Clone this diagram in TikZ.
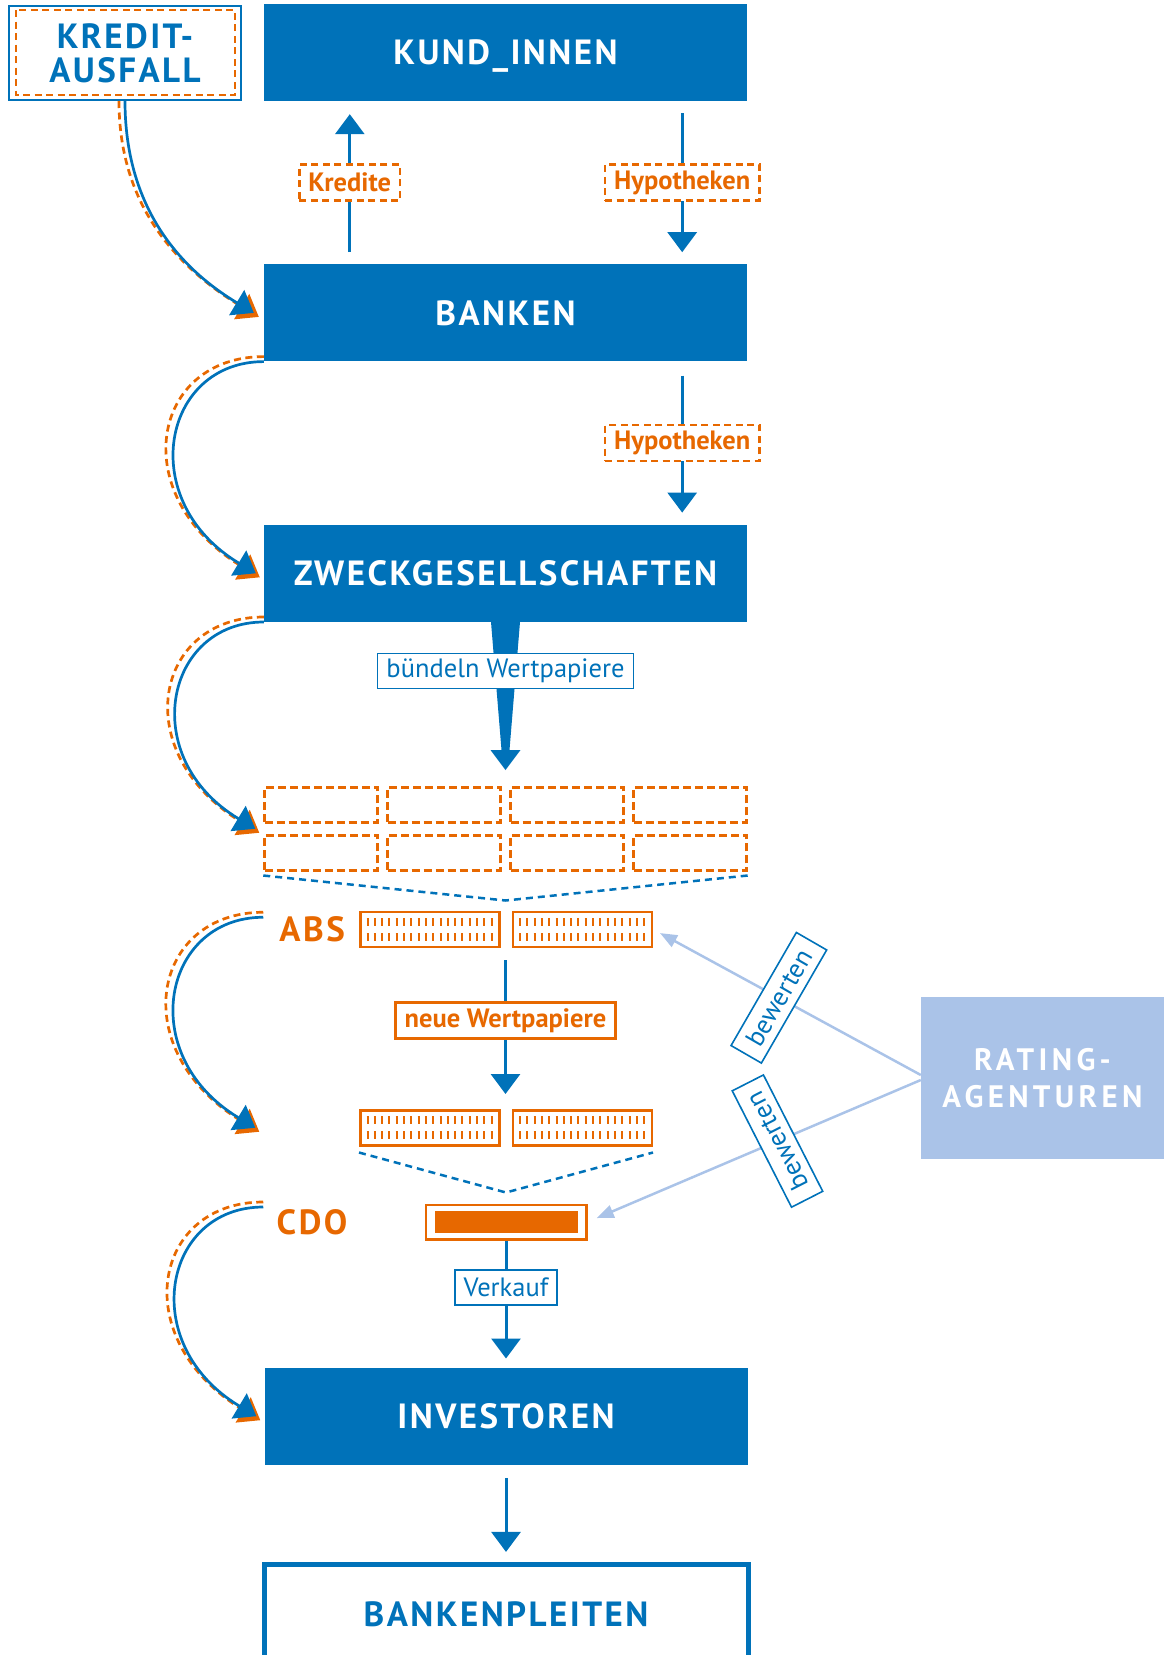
\documentclass[tikz,border=0pt]{standalone}
\usepackage{fontspec}
\setmainfont{PT Sans}
\newfontfamily\capsfont[LetterSpace=7]{PT Sans}
\newfontfamily\ratefont[LetterSpace=14]{PT Sans}
\usetikzlibrary{arrows.meta,positioning,calc}

\definecolor{kblue}{RGB}{0,114,185}
\definecolor{korange}{RGB}{231,104,0}
\definecolor{klight}{RGB}{170,195,232}

\begin{document}
\begin{tikzpicture}[x=1pt,y=1pt,
  mainbox/.style={fill=kblue, text=white, minimum width=483pt, minimum height=97pt, inner sep=0pt,
    text height=24.5pt, text depth=0pt, font=\capsfont\bfseries\fontsize{35pt}{35pt}\selectfont},
  endbox/.style={draw=kblue, line width=5pt, text=kblue, minimum width=484pt, minimum height=99pt, inner sep=0pt,
    font=\capsfont\bfseries\fontsize{35pt}{35pt}\selectfont},
  ratebox/.style={fill=klight, text=white, minimum width=243pt, minimum height=162pt, inner sep=0pt, align=center,
    font=\ratefont\bfseries\fontsize{31pt}{37pt}\selectfont},
  failbox/.style={draw=kblue, line width=2pt, text=kblue, minimum width=232pt, minimum height=94pt, inner sep=0pt, align=center,
    font=\capsfont\bfseries\fontsize{35pt}{34pt}\selectfont},
  dashline/.style={draw=korange, line width=2.5pt, dash pattern=on 7pt off 4.5pt},
  tag/.style={dashline, fill=white, text=korange, inner xsep=9pt, inner ysep=0pt, minimum height=36pt,
    font=\bfseries\fontsize{26.5pt}{26.5pt}\selectfont},
  newtag/.style={tag, solid},
  bluetag/.style={draw=kblue, line width=1.6pt, fill=white, text=kblue, inner xsep=9pt, inner ysep=0pt, minimum height=35pt,
    font=\fontsize{26.5pt}{26.5pt}\selectfont},
  judge/.style={bluetag, inner xsep=12pt},
  flow/.style={draw=kblue, line width=3pt, -{Triangle[width=29pt,length=20pt]}},
  rate/.style={draw=klight, line width=2.5pt, -{Triangle[width=13pt,length=17pt]}},
  slot/.style={draw=korange, line width=2.5pt, minimum width=139pt, minimum height=35pt, inner sep=0pt},
  ticks/.style={draw=korange, line width=8pt, dash pattern=on 2pt off 5.3pt},
  seclabel/.style={text=korange, inner sep=0pt, font=\capsfont\bfseries\fontsize{35pt}{35pt}\selectfont},
  pool/.style={inner sep=0pt, outer sep=0pt, column sep=7.5pt, row sep=10.5pt,
    nodes={dashline, dash pattern=on 8pt off 4pt, minimum width=113pt, minimum height=35pt, inner sep=0pt}},
  fallcore/.style={draw=kblue, line width=2.7pt, -{Triangle[width=29pt,length=20pt]}},
  fallecho/.style={dashline, line width=2.7pt, -{Triangle[width=29pt,length=20pt]}},
  swing/.style={out=180, in=149, out looseness=1.22, in looseness=1.71},
  swingwide/.style={out=180, in=149, out looseness=1.3, in looseness=1.83}
]
\path[use as bounding box, clip] (0,0) rectangle (1164,-1655);

% main chain
\node[mainbox] (kund) at (505.5,-52.5) {KUND\_INNEN};
\node[mainbox, below=163pt of kund] (banken) {BANKEN};
\node[mainbox, below=163pt of banken] (zweck) {ZWECKGESELLSCHAFTEN};
\node[failbox] (ausfall) at (125,-53) {KREDIT-\\AUSFALL};
\draw[dashline] ([shift={(8pt,-5pt)}]ausfall.north west) rectangle ([shift={(-7pt,6pt)}]ausfall.south east);

% tranches
\matrix[pool, below=164pt of zweck] (pool) {
  \node (pool-1-1) {}; & \node (pool-1-2) {}; & \node (pool-1-3) {}; & \node (pool-1-4) {}; \\
  \node (pool-2-1) {}; & \node (pool-2-2) {}; & \node (pool-2-3) {}; & \node (pool-2-4) {}; \\
};

\node[slot, below left=39pt and 5pt of pool.south] (abs-1) {};
\node[slot, below right=39pt and 6pt of pool.south] (abs-2) {};
\node[seclabel, left=14pt of abs-1] (abs-label) {ABS};
\node[slot, below=161pt of abs-1] (pack-1) {};
\node[slot, below=161pt of abs-2] (pack-2) {};
\coordinate (packmid) at ($(pack-1.south east)!.5!(pack-2.south west)$);
\foreach \b in {abs-1,abs-2,pack-1,pack-2}
  \foreach \dy in {7.5,-7.5}
    \draw[ticks] ([xshift=7.5pt,yshift=\dy pt]\b.west) -- ([xshift=-7.5pt,yshift=\dy pt]\b.east);

\node[slot, fill=white, minimum width=160.5pt, minimum height=34.5pt, below=57pt of packmid] (cdo) {};
\node[fill=korange, minimum width=143pt, minimum height=22pt, inner sep=0pt] (cdo-core) at (cdo) {};
\node[seclabel, left=77pt of cdo] (cdo-label) {CDO};

\node[mainbox, below=127pt of cdo] (investoren) {INVESTOREN};
\node[endbox, below=97pt of investoren] (pleite) {BANKENPLEITEN};
\node[ratebox] (rating) at (1042.5,-1078) {RATING-\\AGENTUREN};

% straight flows
\draw[flow, shorten <=12pt, shorten >=13pt] ([xshift=86pt]banken.north west) -- node[tag] (kredite) {Kredite} ([xshift=86pt]kund.south west);
\draw[flow, shorten <=12pt, shorten >=12pt] ([xshift=-65pt]kund.south east) -- node[tag] (hypo-1) {Hypotheken} ([xshift=-65pt]banken.north east);
\draw[flow, shorten <=14pt, shorten >=12pt] ([xshift=-65pt]banken.south east) -- node[tag] (hypo-2) {Hypotheken} ([xshift=-65pt]zweck.north east);

% bundling arrow
\fill[kblue] ([xshift=-14.5pt]zweck.south) -- ([xshift=14.5pt]zweck.south) -- ([shift={(4pt,36pt)}]pool.north)
  -- ([shift={(15pt,36pt)}]pool.north) -- ([yshift=16pt]pool.north) -- ([shift={(-15pt,36pt)}]pool.north)
  -- ([shift={(-4pt,36pt)}]pool.north) -- cycle;
\node[bluetag] (bundle) at ([yshift=-49pt]zweck.south) {bündeln Wertpapiere};

\draw[draw=kblue, line width=2.5pt, dash pattern=on 7pt off 5pt] ([yshift=-4pt]pool.south west) -- ([yshift=-29pt]pool.south) -- ([yshift=-4pt]pool.south east);
\draw[draw=kblue, line width=2.5pt, dash pattern=on 7pt off 5pt] ([yshift=-6pt]pack-1.south west) -- ([yshift=-46pt]packmid) -- ([yshift=-6pt]pack-2.south east);

\draw[flow, shorten <=12pt, shorten >=15pt] (abs-1.south -| pool.south) -- node[newtag, pos=.45] (neu) {neue Wertpapiere} (pack-1.north -| pool.south);
\draw[flow, shorten >=9pt] (cdo) -- node[bluetag, pos=.37] (verkauf) {Verkauf} (investoren);
\draw[flow, shorten <=13pt, shorten >=10pt] (investoren) -- (pleite);

% rating
\draw[rate, shorten >=8pt] ([yshift=3pt]rating.west) -- node[judge, rotate=60, pos=.53] (judge-1) {bewerten} (abs-2.east);
\draw[rate, shorten >=10pt] ([yshift=-2pt]rating.west) -- node[judge, rotate=117, pos=.43] (judge-2) {bewerten} (cdo.east);

% default spreading down the chain
\coordinate (tail-1) at (banken.south west);
\coordinate (head-1) at ([xshift=-8pt]zweck.west);
\coordinate (tail-2) at (zweck.south west);
\coordinate (head-2) at ([xshift=-8pt]pool.west);
\coordinate (tail-3) at ($(abs-label.west -| pool.west)+(0,12)$);
\coordinate (head-3) at ($(pack-1.west -| pool.west)+(-8,0)$);
\coordinate (tail-4) at ($(cdo-label.west -| pool.west)+(0,15)$);
\coordinate (head-4) at ([xshift=-8pt]investoren.west);

\draw[fallecho] ([xshift=-6pt]ausfall.south) to[out=-90,in=149] ([xshift=-5pt,yshift=-4pt]banken.west);
\draw[fallcore] (ausfall.south) to[out=-90,in=149] ([xshift=-10pt]banken.west);
\foreach \i in {1,...,4} {
  \draw[fallecho] ([yshift=5pt]tail-\i) to[swingwide] ([xshift=4pt,yshift=-4pt]head-\i);
  \draw[fallcore] (tail-\i) to[swing] (head-\i);
}
\end{tikzpicture}
\end{document}
